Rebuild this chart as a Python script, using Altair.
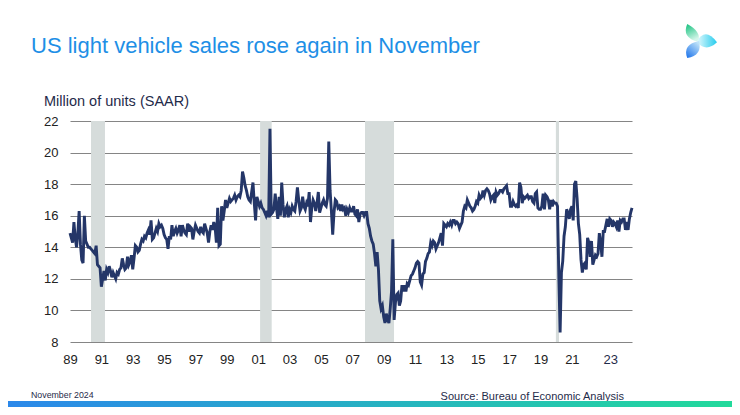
import altair as alt
import pandas as pd

TITLE = "US light vehicle sales rose again in November"
Y_TITLE = "Million of units (SAAR)"
DATE_NOTE = "November 2024"
SOURCE = "Source: Bureau of Economic Analysis"

START_YEAR = 1989
# Monthly light vehicle sales, million units SAAR (Jan 1989 - Nov 2024)
y1989 = [14.9, 14.6, 14.3, 15.6, 14.6, 14.0, 14.9, 16.3, 14.2, 13.2, 13.0, 16.0]
y1990 = [14.4, 14.2, 14.0, 14.0, 13.9, 13.8, 13.7, 13.6, 14.1, 12.9, 12.8, 12.7]
y1991 = [11.5, 12.0, 12.5, 11.9, 12.6, 12.4, 12.8, 12.5, 12.1, 12.4, 12.2, 12.0]
y1992 = [12.4, 12.3, 12.6, 12.7, 13.3, 12.9, 12.6, 12.7, 13.4, 12.9, 13.1, 13.5]
y1993 = [12.6, 13.3, 14.1, 14.0, 13.7, 13.8, 14.2, 14.5, 14.4, 14.7, 14.6, 14.9]
y1994 = [15.1, 14.8, 15.7, 14.5, 14.6, 14.9, 15.2, 15.0, 15.5, 15.3, 15.4, 15.2]
y1995 = [14.8, 14.6, 14.5, 13.9, 14.7, 14.5, 15.4, 14.7, 15.0, 15.2, 14.9, 15.1]
y1996 = [15.4, 14.7, 15.4, 15.1, 14.9, 14.8, 15.5, 15.0, 15.3, 15.2, 14.5, 15.0]
y1997 = [15.4, 15.2, 15.0, 14.9, 15.3, 15.0, 14.9, 15.5, 15.2, 14.9, 14.3, 15.0]
y1998 = [15.4, 15.1, 15.6, 15.3, 14.3, 16.5, 14.1, 14.2, 16.6, 15.7, 16.3, 17.0]
y1999 = [16.5, 16.8, 17.1, 16.9, 17.0, 17.1, 17.3, 17.0, 17.2, 17.3, 17.2, 17.6]
y2000 = [18.8, 18.4, 17.9, 17.6, 17.2, 17.0, 16.9, 17.5, 18.1, 16.8, 15.7, 17.2]
y2001 = [16.9, 16.6, 16.8, 16.5, 16.4, 16.2, 16.0, 16.3, 15.9, 21.5, 16.1, 16.2]
y2002 = [16.4, 17.4, 16.5, 15.8, 17.2, 16.0, 18.1, 16.7, 15.9, 16.4, 16.6, 15.9]
y2003 = [16.4, 16.2, 16.6, 16.4, 16.3, 16.9, 17.8, 17.0, 16.3, 16.5, 17.2, 16.6]
y2004 = [16.4, 16.8, 16.6, 17.5, 15.6, 16.5, 17.0, 16.8, 16.3, 16.8, 17.5, 16.2]
y2005 = [16.5, 16.8, 17.0, 16.7, 16.6, 17.1, 20.7, 17.6, 16.3, 14.8, 16.2, 17.0]
y2006 = [16.9, 16.5, 16.6, 16.3, 16.7, 16.4, 16.5, 16.0, 16.4, 16.2, 16.5, 16.3]
y2007 = [16.3, 16.6, 16.1, 16.0, 16.4, 15.6, 16.1, 16.2, 16.2, 16.0, 16.2, 16.2]
y2008 = [15.5, 15.2, 14.7, 14.4, 14.2, 13.6, 12.8, 13.7, 12.6, 10.6, 10.1, 10.3]
y2009 = [9.6, 9.2, 9.8, 9.4, 9.2, 10.1, 11.2, 14.5, 9.4, 10.5, 11.0, 11.1]
y2010 = [10.3, 10.6, 11.6, 11.2, 11.6, 11.2, 11.7, 11.6, 11.9, 12.2, 12.3, 12.5]
y2011 = [12.7, 13.0, 13.1, 13.0, 11.8, 11.6, 12.3, 12.4, 13.1, 13.3, 13.6, 13.7]
y2012 = [14.3, 14.1, 14.4, 14.3, 13.9, 14.1, 14.3, 14.6, 14.9, 14.1, 15.5, 15.4]
y2013 = [15.3, 15.5, 15.4, 15.6, 15.4, 15.7, 15.7, 15.5, 15.6, 15.5, 15.2, 15.4]
y2014 = [15.6, 16.3, 16.6, 16.5, 17.0, 16.8, 16.6, 16.5, 16.3, 16.4, 16.6, 16.9]
y2015 = [16.8, 17.3, 17.1, 17.2, 17.6, 17.3, 17.6, 17.7, 17.6, 17.4, 17.0, 17.2]
y2016 = [17.3, 16.8, 17.5, 17.3, 17.4, 17.6, 17.6, 17.5, 17.7, 17.8, 17.9, 17.4]
y2017 = [17.4, 16.6, 16.6, 16.9, 16.7, 16.6, 16.7, 16.5, 18.1, 17.8, 16.8, 17.2]
y2018 = [17.1, 17.2, 17.3, 17.1, 17.2, 17.2, 16.9, 16.8, 17.4, 17.5, 16.5, 16.4]
y2019 = [16.4, 16.6, 17.4, 16.4, 17.3, 17.2, 17.0, 16.4, 17.0, 16.6, 16.9, 16.8]
y2020 = [16.8, 16.6, 12.2, 8.6, 12.4, 13.1, 14.7, 15.3, 16.4, 16.2, 15.8, 16.4]
y2021 = [16.6, 15.7, 18.0, 18.2, 17.1, 15.5, 14.8, 13.2, 12.4, 12.9, 13.0, 12.6]
y2022 = [14.6, 14.3, 13.4, 14.4, 12.9, 13.2, 13.5, 13.4, 13.6, 14.9, 14.3, 13.4]
y2023 = [15.0, 15.0, 15.4, 15.8, 15.3, 15.8, 15.7, 15.3, 15.6, 15.5, 15.3, 15.7]
y2024 = [15.0, 15.7, 15.6, 15.8, 15.8, 15.1, 15.6, 15.1, 15.8, 16.2, 16.5]

# Recession shading (decimal years)
recession_start = [1990.34, 2001.12, 2007.81, 2019.98]
recession_end = [1991.23, 2001.86, 2009.66, 2020.18]

x_ticks = list(range(1989, 2024, 2))
y_ticks = [8, 10, 12, 14, 16, 18, 20, 22]

series = (y1989 + y1990 + y1991 + y1992 + y1993 + y1994 + y1995 + y1996 + y1997
          + y1998 + y1999 + y2000 + y2001 + y2002 + y2003 + y2004 + y2005 + y2006
          + y2007 + y2008 + y2009 + y2010 + y2011 + y2012 + y2013 + y2014 + y2015
          + y2016 + y2017 + y2018 + y2019 + y2020 + y2021 + y2022 + y2023 + y2024)
dates = [START_YEAR + i / 12 for i in range(len(series))]

df = pd.DataFrame({"t": dates, "v": series})
rec = pd.DataFrame({"s": recession_start, "e": recession_end})

FONT = "Liberation Sans"
NAVY = "#1F2B4A"
LINE = "#243668"

xscale = alt.Scale(domain=[dates[0], dates[-1]], nice=False, zero=False)
yscale = alt.Scale(domain=[y_ticks[0], y_ticks[-1]], nice=False, zero=False)

x_axis = alt.Axis(
    values=x_ticks, title=None, grid=False, ticks=False, tickSize=0, domain=False,
    labelExpr="substring(toString(datum.value), 2, 4)", labelFlush=False,
    labelOverlap=False, labelPadding=11, labelFontSize=13, labelFont=FONT,
    labelColor={"condition": {"test": "datum.value == 2023", "value": NAVY}, "value": "#222222"},
    labelOffset={"condition": {"test": "datum.value == 2023", "value": 7}, "value": 0},
)
y_axis = alt.Axis(
    values=y_ticks, title=None, grid=True, gridColor="#858585", gridWidth=1,
    domain=False, ticks=False, tickSize=0, labelPadding=12, labelFontSize=13,
    labelFont=FONT, labelColor="#222222",
)

shade = alt.Chart(rec).mark_rect(color="#D6DCDB").encode(
    x=alt.X("s:Q", scale=xscale, axis=x_axis),
    x2="e:Q",
    y=alt.datum(y_ticks[-1], scale=yscale, axis=y_axis),
    y2=alt.datum(y_ticks[0]),
)

line = alt.Chart(df).mark_line(color=LINE, strokeWidth=2.9).encode(
    x=alt.X("t:Q", scale=xscale, axis=x_axis),
    y=alt.Y("v:Q", scale=yscale, axis=y_axis),
)


def label(text, x, y, size, color, align="left"):
    return alt.Chart(pd.DataFrame({"t": [text]})).mark_text(
        align=align, baseline="alphabetic", fontSize=size, font=FONT, color=color,
    ).encode(x=alt.value(x), y=alt.value(y), text="t:N")


title = label(TITLE, -39, -68, 22, "#1E8FE6")
ytitle = label(Y_TITLE, -26, -15, 14.5, NAVY)
note = label(DATE_NOTE, -39, 277, 8.8, NAVY)
source = label(SOURCE, 554, 279, 11, NAVY, align="right")

bar = alt.Chart(pd.DataFrame({"a": [0]})).mark_rect(
    color=alt.LinearGradient(
        gradient="linear",
        stops=[alt.GradientStop(color="#2B88EA", offset=0),
               alt.GradientStop(color="#22DA9B", offset=1)],
        x1=0, x2=1, y1=0, y2=0,
    )
).encode(x=alt.value(-62), x2=alt.value(662), y=alt.value(280), y2=alt.value(286))


def leaf(path, c0, c1, x1, y1, x2, y2):
    return alt.Chart(pd.DataFrame({"a": [0]})).mark_point(
        shape=path, size=1156, filled=True, strokeWidth=0, opacity=1,
        fill=alt.LinearGradient(
            gradient="linear",
            stops=[alt.GradientStop(color=c0, offset=0), alt.GradientStop(color=c1, offset=1)],
            x1=x1, y1=y1, x2=x2, y2=y2,
        ),
    ).encode(x=alt.value(630), y=alt.value(-80))


green = leaf("M-0.1,0.05 Q-1.1,-0.2 -0.75,-1 Q0.1,-0.55 -0.1,0.05 Z",
             "#12C07C", "#D4F6EA", 0, 0, 0.4, 1)
cyan = leaf("M-0.2,0.05 Q0.3,-0.85 1,0.08 Q0.35,0.7 -0.2,0.05 Z",
            "#E6FAFD", "#25CCEE", 0, 0, 1, 0)
blue = leaf("M-0.05,0.0 Q0.15,0.85 -0.75,1 Q-1.05,0.2 -0.05,0.0 Z",
            "#BEE2F9", "#1870EA", 0.7, 0, 0, 1)

chart = alt.layer(
    shade, line, title, ytitle, note, source, bar, green, cyan, blue
).properties(
    width=562, height=221,
    padding={"left": 62, "top": 113, "right": 100, "bottom": 65},
    autosize=alt.AutoSizeParams(type="none"),
).configure(font=FONT, background="white").configure_view(stroke=None)

chart.save("out.html", embed_options={"renderer": "svg", "actions": False})
